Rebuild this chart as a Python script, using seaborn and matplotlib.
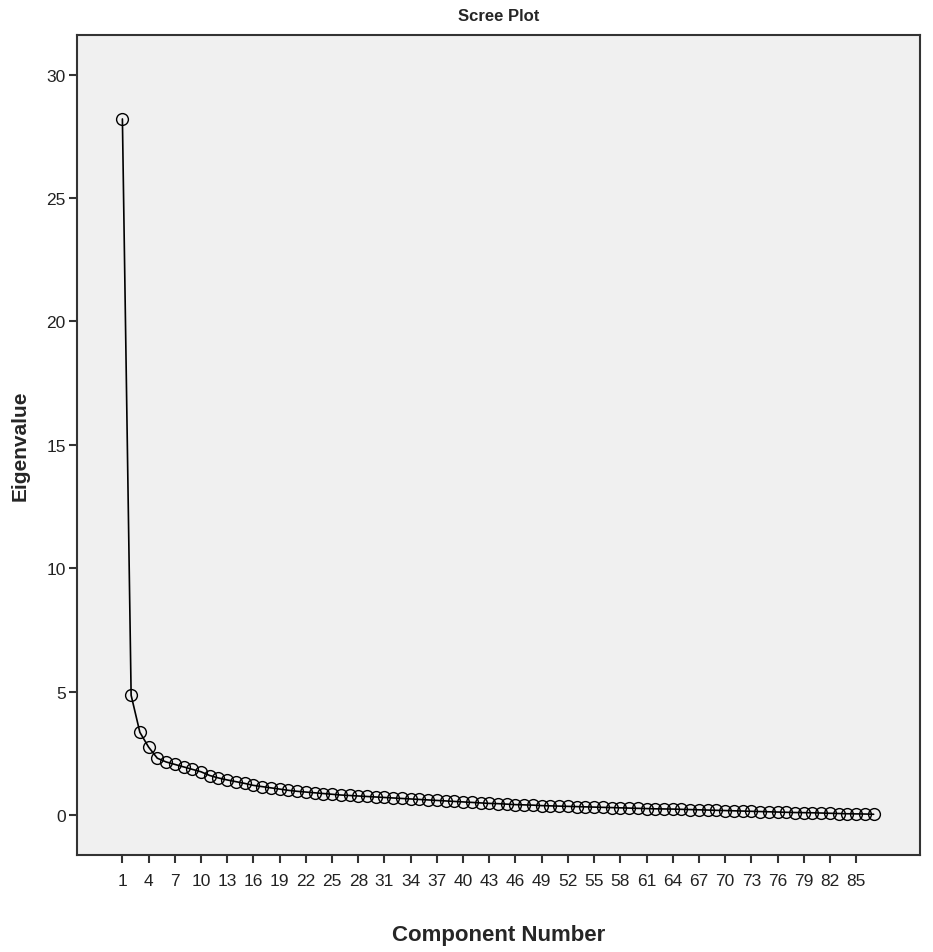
import matplotlib
matplotlib.use("Agg")
import matplotlib.pyplot as plt
import seaborn as sns
import pandas as pd

components = list(range(1, 88))
eigenvalues = [
    28.2, 4.85, 3.35, 2.75, 2.3, 2.15, 2.05, 1.95, 1.85, 1.75,
    1.6, 1.5, 1.42, 1.35, 1.28, 1.2, 1.15, 1.1, 1.05, 1.0,
    0.96, 0.93, 0.9, 0.87, 0.84, 0.81, 0.79, 0.77, 0.75, 0.73,
    0.71, 0.69, 0.67, 0.65, 0.63, 0.61, 0.59, 0.57, 0.55, 0.53,
    0.51, 0.49, 0.47, 0.46, 0.44, 0.42, 0.41, 0.40, 0.38, 0.37,
    0.36, 0.35, 0.34, 0.33, 0.32, 0.31, 0.30, 0.29, 0.28, 0.27,
    0.26, 0.25, 0.245, 0.24, 0.23, 0.22, 0.21, 0.20, 0.19, 0.18,
    0.17, 0.16, 0.15, 0.14, 0.13, 0.12, 0.11, 0.10, 0.095, 0.09,
    0.08, 0.07, 0.06, 0.05, 0.045, 0.04, 0.03,
]
x_ticks = list(range(1, 86, 3))
y_ticks = [0, 5, 10, 15, 20, 25, 30]
title = "Scree Plot"
x_label = "Component Number"
y_label = "Eigenvalue"

df = pd.DataFrame({"Component Number": components, "Eigenvalue": eigenvalues})

sns.set_style("white")
plt.rcParams["font.family"] = ["Liberation Sans", "DejaVu Sans"]

fig = plt.figure(figsize=(9.33, 9.53), dpi=100)
ax = fig.add_axes([0.0825, 0.1018, 0.9035, 0.8604])
ax.set_facecolor("#F0F0F0")

sns.lineplot(data=df, x="Component Number", y="Eigenvalue", ax=ax,
             color="black", linewidth=1.2, marker="o", markersize=8.5,
             markerfacecolor="none", markeredgecolor="black",
             markeredgewidth=1.0)

ax.set_xlim(-4.2, 92.3)
ax.set_ylim(-1.62, 31.6)
ax.set_xticks(x_ticks)
ax.set_xticklabels([str(t) for t in x_ticks])
ax.set_yticks(y_ticks)
ax.tick_params(axis="both", which="major", direction="out", length=6,
               width=1.5, color="#333333", labelsize=12.5, labelcolor="#222222",
               pad=2, bottom=True, left=True)
ax.tick_params(axis="x", pad=7)

for s in ax.spines.values():
    s.set_visible(True)
    s.set_color("#333333")
    s.set_linewidth(1.5)

ax.set_xlabel(x_label, fontsize=16, fontweight="bold", labelpad=26)
ax.set_ylabel(y_label, fontsize=15, fontweight="bold", labelpad=12)
ax.set_title(title, fontsize=12, fontweight="bold", pad=11)

fig.savefig("out.png", dpi=100, facecolor="white")
